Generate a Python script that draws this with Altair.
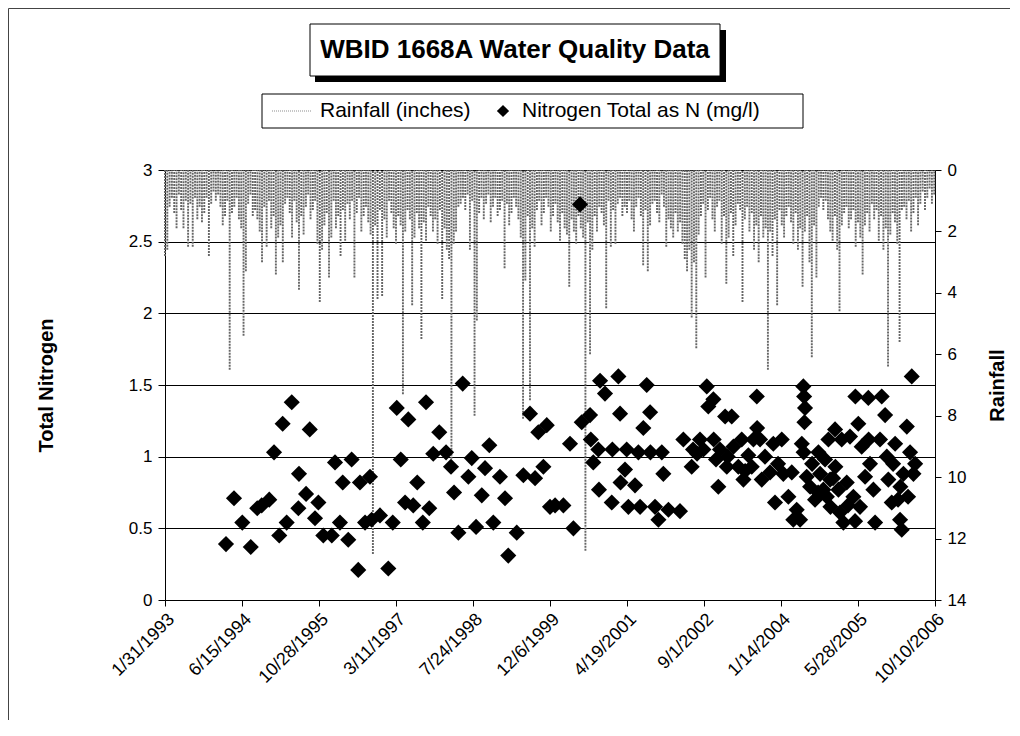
import altair as alt
import pandas as pd

FONT = "Liberation Sans"
START = "1993-01-31"
END = "2006-10-10"

title_text = ["WBID 1668A Water Quality Data"]
legend_rain = ["Rainfall (inches)"]
legend_n = ["Nitrogen Total as N (mg/l)"]

tick_labels = ["1/31/1993", "6/15/1994", "10/28/1995", "3/11/1997", "7/24/1998",
               "12/6/1999", "4/19/2001", "9/1/2002", "1/14/2004", "5/28/2005", "10/10/2006"]
n_ticks = [0, 0.5, 1, 1.5, 2, 2.5, 3]
rain_ticks = [0, 2, 4, 6, 8, 10, 12, 14]

# rainfall (inches), one reading every 15 days from the start date
RAIN_STEP = 15
rain_in = [
    2.8, 2.6, 1.2, 0.9, 1.4, 1.9, 0.8, 1.3, 1.9, 1.0, 2.5, 1.1, 2.5, 0.9, 1.6, 1.2, 1.7, 1.4, 0.9, 2.8,
    1.1, 0.7, 1.0, 0.8, 1.2, 1.8, 1.5, 1.0, 6.5, 1.4, 1.2, 0.9, 1.6, 1.9, 5.4, 3.3, 1.1, 0.8, 1.5, 1.3,
    1.6, 2.0, 3.0, 1.2, 2.5, 1.0, 1.9, 1.5, 3.4, 2.2, 1.8, 3.0, 1.1, 0.9, 1.4, 2.2, 1.0, 1.7, 3.9, 1.5,
    2.1, 1.2, 0.8, 1.6, 1.3, 1.0, 2.4, 4.3, 2.6, 1.8, 1.4, 3.5, 2.2, 1.0, 1.9, 1.5, 2.8, 1.3, 2.3, 1.1,
    1.6, 1.0, 3.5, 1.4, 0.9, 2.0, 1.5, 1.2, 1.7, 2.1, 12.5, 1.8, 4.2, 1.3, 4.1, 1.6, 2.2, 1.0, 1.4, 1.9,
    2.4, 1.5, 1.8, 7.3, 2.0, 1.3, 1.6, 4.4, 2.2, 1.4, 1.9, 5.5, 1.7, 2.3, 1.2, 1.5, 2.0, 1.6, 2.4, 1.3,
    4.2, 1.9, 2.6, 2.9, 9.4, 2.4, 2.0, 1.2, 1.1, 0.9, 1.3, 0.8, 2.6, 1.0, 8.0, 4.9, 1.4, 0.9, 1.6, 1.1,
    0.8, 1.7, 1.2, 0.9, 1.5, 1.3, 1.0, 3.2, 1.1, 1.8, 1.4, 0.9, 1.2, 1.6, 2.2, 8.1, 3.6, 1.5, 7.5, 1.9,
    2.5, 1.3, 1.0, 1.8, 1.4, 0.9, 1.2, 2.0, 1.5, 1.1, 1.7, 2.3, 1.4, 1.9, 2.1, 3.8, 1.6, 2.0, 2.4, 1.5,
    1.9, 2.2, 12.4, 1.7, 6.0, 2.6, 1.5, 2.0, 1.2, 1.4, 1.8, 4.5, 1.0, 2.5, 1.3, 2.4, 1.1, 0.9, 1.5, 1.2,
    1.4, 1.0, 1.6, 2.0, 1.2, 0.9, 1.5, 3.1, 1.3, 3.3, 1.8, 1.1, 1.0, 1.4, 1.7, 0.8, 1.2, 2.5, 1.6, 1.9,
    2.2, 1.4, 2.0, 1.7, 2.4, 2.9, 3.3, 2.6, 4.8, 3.0, 5.8, 2.1, 1.5, 1.1, 3.5, 1.3, 0.9, 1.6, 2.0, 1.2,
    1.0, 2.4, 1.5, 3.7, 2.2, 1.4, 2.8, 1.8, 1.1, 1.3, 4.3, 1.6, 1.2, 2.0, 1.4, 2.6, 1.8, 3.0, 1.5, 2.2,
    1.9, 6.5, 2.0, 2.8, 1.6, 4.4, 1.3, 1.8, 2.2, 1.5, 1.2, 1.7, 2.4, 1.4, 2.6, 1.9, 3.8, 2.0, 1.5, 3.0,
    6.1, 1.8, 3.5, 1.2, 0.9, 1.3, 1.0, 1.6, 2.0, 2.3, 1.5, 2.6, 4.6, 1.8, 1.4, 1.2, 1.9, 1.6, 1.3, 2.5,
    1.7, 2.2, 3.4, 1.8, 1.4, 2.0, 1.1, 1.6, 1.3, 2.3, 1.5, 2.6, 1.9, 6.4, 2.1, 1.4, 1.7, 2.4, 5.6, 1.3,
    1.2, 1.6, 1.0, 2.0, 1.4, 0.9, 1.8, 1.1, 0.7, 1.3, 0.9, 0.6, 1.1, 0.8,
]

# nitrogen samples: days after the start date, and mg/l
n_day = [
    396, 448, 502, 557, 599, 628, 677, 708, 742, 764,
    790, 823, 866, 870, 916, 940, 974, 996, 1028, 1083,
    1104, 1136, 1154, 1190, 1212, 1255, 1266, 1299, 1331, 1342,
    1396, 1450, 1479, 1505, 1531, 1559, 1580, 1612, 1638, 1674,
    1695, 1716, 1742, 1781, 1825, 1857, 1877, 1905, 1933, 1970,
    1992, 2020, 2057, 2078, 2106, 2132, 2175, 2208, 2229, 2284,
    2327, 2370, 2403, 2424, 2457, 2479, 2500,
    2533, 2587, 2652, 2630, 2706, 2760, 2825, 2857, 2944, 2955,
    2765, 2781, 2814, 2818, 2901, 2905, 2958, 2987, 3009, 2998,
    3052, 3074, 3085, 3106, 3128, 3150, 3152, 3182, 3204, 3226,
    3236, 3269, 3344, 3366, 3420, 3474, 3496, 3518, 3528, 3561,
    3563, 3593, 3604, 3637, 3648, 3680, 3691, 3723, 3745, 3756,
    3788, 3810, 3843, 3845, 3821, 3864, 3875, 3929, 3950, 3961,
    4005, 4015, 4048, 4070, 4080, 4102, 4124, 4145, 4150, 4156,
    4152, 4135, 4147, 4167, 4189, 4221, 4243, 4254, 4275, 4286,
    4308, 4319, 4321, 4351, 4353, 4373, 4383, 4405, 4394, 4427,
    4448, 4470, 4481, 4483, 4502, 4524, 4546, 4567, 4569, 4600,
    4611, 4643, 4654, 4676, 4687, 4697, 4719, 4741, 4773, 4784,
    4775, 4795, 4817, 4838, 4860, 4849,
    2695,
    3429, 3455, 3578, 3654, 3767, 3896, 3981, 4202, 4241, 4298,
    4338, 4435, 4513, 4578, 4728, 4760, 4871, 4825,
]
n_val = [
    0.39, 0.71, 0.54, 0.37, 0.64, 0.66, 0.70, 1.03, 0.45, 1.23,
    0.54, 1.38, 0.64, 0.88, 0.74, 1.19, 0.57, 0.68, 0.45, 0.45,
    0.96, 0.54, 0.82, 0.42, 0.98, 0.21, 0.82, 0.54, 0.86, 0.56,
    0.59, 0.22, 0.54, 1.34, 0.98, 0.68, 1.26, 0.66, 0.82, 0.54,
    1.38, 0.64, 1.02, 1.17, 1.03, 0.93, 0.75, 0.47, 1.51, 0.86,
    0.99, 0.51, 0.73, 0.92, 1.08, 0.54, 0.86, 0.71, 0.31, 0.47,
    0.87, 1.30, 0.85, 1.17, 0.93, 1.22, 0.65,
    0.66, 0.66, 0.50, 1.09, 1.24, 1.29, 1.53, 1.44, 1.56, 1.30,
    1.12, 0.96, 1.05, 0.77, 0.68, 1.05, 0.82, 0.91, 0.65, 1.05,
    0.80, 1.03, 0.65, 1.20, 1.50, 1.31, 1.03, 0.65, 0.56, 1.03,
    0.88, 0.63, 0.62, 1.12, 0.93, 1.12, 1.05, 1.49, 1.35, 1.40,
    1.12, 0.79, 1.05, 1.28, 0.93, 1.28, 1.07, 0.93, 1.12, 0.84,
    1.01, 0.93, 1.42, 1.20, 1.12, 1.12, 0.84, 0.89, 1.09, 0.68,
    1.12, 0.88, 0.72, 0.89, 0.56, 0.63, 0.56, 1.49, 1.42, 1.34,
    1.24, 1.09, 1.03, 0.86, 0.79, 0.70, 1.03, 0.88, 0.77, 0.98,
    1.12, 0.84, 0.65, 1.19, 0.93, 0.77, 0.61, 0.54, 1.12, 0.82,
    1.14, 0.72, 0.55, 1.42, 1.23, 1.07, 0.86, 1.41, 1.12, 0.77,
    0.54, 1.12, 1.42, 1.29, 1.00, 0.84, 0.68, 1.09, 0.56, 0.49,
    0.79, 0.88, 1.21, 1.03, 0.88, 1.56,
    2.76,
    1.05, 1.02, 0.98, 1.00, 0.90, 1.00, 0.95, 0.95, 0.75, 0.72,
    0.85, 0.66, 0.65, 0.95, 0.95, 0.70, 0.95, 0.72,
]
assert len(n_day) == len(n_val)

start = pd.Timestamp(START)
end = pd.Timestamp(END)
rain_df = pd.DataFrame({
    "date": start + pd.to_timedelta([i * RAIN_STEP for i in range(len(rain_in))], unit="D"),
    "rain": rain_in,
    "zero": [0.0] * len(rain_in),
})
n_df = pd.DataFrame({"date": start + pd.to_timedelta(n_day, unit="D"), "n": n_val})


def dt(ts):
    return alt.DateTime(year=ts.year, month=ts.month, date=ts.day)


tick_dates = [dt(pd.to_datetime(t, format="%m/%d/%Y")) for t in tick_labels]

x_enc = alt.X(
    "date:T",
    scale=alt.Scale(domain=[dt(start), dt(end)]),
    axis=alt.Axis(
        values=tick_dates, format="%-m/%-d/%Y", labelAngle=315, labelAlign="right",
        labelBaseline="top", title=None, grid=False, domainColor="black", tickColor="black",
        tickSize=6, labelFontSize=18, labelColor="black", labelFont=FONT, labelPadding=4,
        labelOverlap=False, labelFlush=False,
    ),
)

rain = alt.Chart(rain_df).mark_rule(color="#666666", strokeWidth=1.9, strokeDash=[2, 1]).encode(
    x=x_enc,
    y=alt.Y(
        "rain:Q",
        scale=alt.Scale(domain=[0, 14], reverse=True, nice=False),
        axis=alt.Axis(
            orient="right", values=rain_ticks, title="Rainfall", grid=False,
            domainColor="black", tickColor="black", tickSize=6, labelFontSize=17,
            labelColor="black", labelFont=FONT, titleFont=FONT, titleFontSize=20,
            titleFontWeight="bold", titleColor="black", titleAngle=270, titlePadding=42,
            labelPadding=6,
        ),
    ),
    y2="zero:Q",
)

pts = alt.Chart(n_df).mark_point(shape="diamond", filled=True, color="black", size=260, opacity=1).encode(
    x=x_enc,
    y=alt.Y(
        "n:Q",
        scale=alt.Scale(domain=[0, 3], nice=False),
        axis=alt.Axis(
            orient="left", values=n_ticks, format="~g", title="Total Nitrogen", grid=True,
            gridColor="black", gridWidth=1, domainColor="black", tickColor="black", tickSize=7,
            labelFontSize=17, labelColor="black", labelFont=FONT, titleFont=FONT,
            titleFontSize=20, titleFontWeight="bold", titleColor="black", titlePadding=72,
            labelPadding=6,
        ),
    ),
)

# ---- decorations: frame, title box, legend box (pixel placement) ----
title_df = pd.DataFrame({"t": title_text})
frame_top = alt.Chart(title_df).mark_rule(color="#444", strokeWidth=1).encode(
    x=alt.value(-156.5), x2=alt.value(850), y=alt.value(-161.5)
)
frame_left = alt.Chart(title_df).mark_rule(color="#444", strokeWidth=1).encode(
    x=alt.value(-156.5), y=alt.value(-161.5), y2=alt.value(556)
)
shadow = alt.Chart(title_df).mark_rect(color="black").encode(
    x=alt.value(150), x2=alt.value(561), y=alt.value(-140), y2=alt.value(-88)
)
tbox = alt.Chart(title_df).mark_rect(fill="white", stroke="black", strokeWidth=1).encode(
    x=alt.value(145), x2=alt.value(555), y=alt.value(-146), y2=alt.value(-94)
)
ttext = alt.Chart(title_df).mark_text(font=FONT, fontSize=26, fontWeight="bold", color="black").encode(
    text="t:N", x=alt.value(350), y=alt.value(-120)
)
lbox = alt.Chart(title_df).mark_rect(fill="white", stroke="black", strokeWidth=1).encode(
    x=alt.value(97), x2=alt.value(638), y=alt.value(-76), y2=alt.value(-42)
)
lline = alt.Chart(title_df).mark_rule(color="#8d8d8d", strokeWidth=1.2, strokeDash=[1, 1]).encode(
    x=alt.value(107), x2=alt.value(147), y=alt.value(-59)
)
ltext1 = alt.Chart(pd.DataFrame({"t": legend_rain})).mark_text(
    font=FONT, fontSize=21, color="black", align="left"
).encode(text="t:N", x=alt.value(155), y=alt.value(-59))
ldiam = alt.Chart(title_df).mark_point(shape="diamond", filled=True, color="black", size=150, opacity=1).encode(
    x=alt.value(338), y=alt.value(-59)
)
ltext2 = alt.Chart(pd.DataFrame({"t": legend_n})).mark_text(
    font=FONT, fontSize=21, color="black", align="left"
).encode(text="t:N", x=alt.value(357), y=alt.value(-59))

main = alt.layer(rain, pts).resolve_scale(y="independent")

chart = alt.layer(
    frame_top, frame_left, shadow, tbox, ttext, lbox, lline, ltext1, ldiam, ltext2, main
).properties(
    width=770, height=430,
    autosize=alt.AutoSizeParams(type="none"),
    padding={"left": 157, "top": 162, "right": 75, "bottom": 120},
    background="white",
).configure_view(stroke=None)

chart.save("out.html", embed_options={"renderer": "svg", "actions": False})
